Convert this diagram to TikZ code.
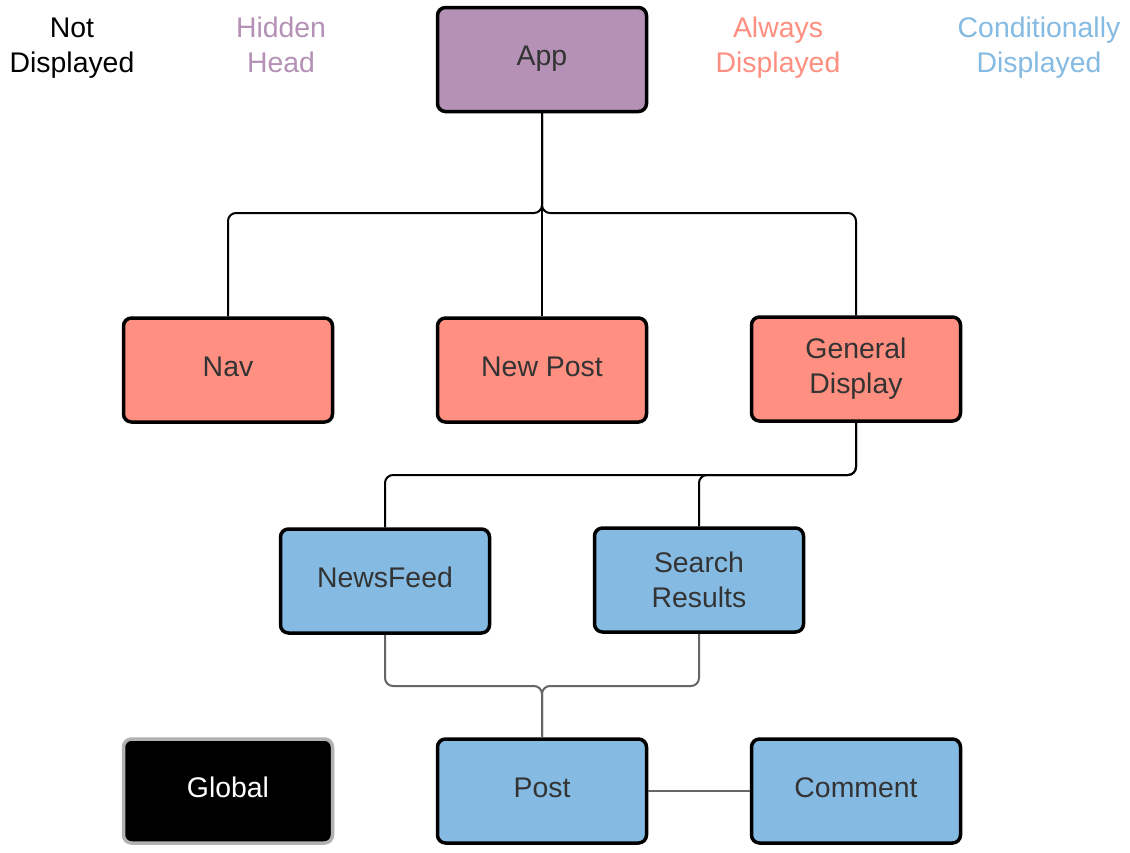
\documentclass[tikz,border=0pt]{standalone}
\usepackage{fontspec}
\setmainfont{Liberation Sans}
\definecolor{headpurple}{HTML}{B491B5}
\definecolor{alwayscoral}{HTML}{FF8F80}
\definecolor{condblue}{HTML}{85BBE3}
\definecolor{boxtext}{HTML}{333333}
\definecolor{linegray}{HTML}{666666}
\tikzset{
  compbox/.style={draw=black, line width=1.75pt, rounded corners=4pt,
    minimum width=104.5pt, minimum height=52pt, align=center,
    text=boxtext, font=\fontsize{14.2}{17.5}\selectfont},
  oneline/.style={text height=10.2pt, text depth=4pt},
  legend/.style={align=center, font=\fontsize{14.2}{17.5}\selectfont},
  tree/.style={line width=1pt, rounded corners=4pt},
}
\begin{document}
\begin{tikzpicture}[x=0.5pt, y=-0.5pt]
\useasboundingbox[fill=white] (0,0) rectangle (1130,852);

% legend
\node[legend, text=black] (notdisp) at (72,48) {Not\\Displayed};
\node[legend, text=headpurple] (hidhead) at (281,45) {Hidden\\Head};
\node[legend, text=alwayscoral] (alwdisp) at (778,48) {Always\\Displayed};
\node[legend, text=condblue] (conddisp) at (1039,48) {Conditionally\\Displayed};

% components
\node[compbox, oneline, fill=headpurple] (app) at (542,59.5) {App};
\node[compbox, oneline, fill=alwayscoral] (nav) at (228,370) {Nav};
\node[compbox, oneline, fill=alwayscoral] (newpost) at (542,370) {New Post};
\node[compbox, fill=alwayscoral] (gendisp) at (856,369) {General\\Display};
\node[compbox, oneline, fill=condblue] (newsfeed) at (385,581) {NewsFeed};
\node[compbox, fill=condblue] (search) at (699,580) {Search\\Results};
\node[compbox, oneline, fill=black, draw=black!30, text=white] (global) at (228,791) {Global};
\node[compbox, oneline, fill=condblue] (post) at (542,791) {Post};
\node[compbox, oneline, fill=condblue] (comment) at (856,791) {Comment};

\coordinate (appbar) at (542,213);
\coordinate (gdbar) at (856,475);
\coordinate (postbar) at (542,686);

% connectors
\draw[tree] (nav.north) |- (appbar) -- (app.south);
\draw[tree] (gendisp.north) |- (appbar) -- (app.south);
\draw[tree] (newpost.north) -- (app.south);
\draw[tree] (newsfeed.north) |- (gdbar) -- (gendisp.south);
\draw[tree] (search.north) |- (gdbar) -- (gendisp.south);
\draw[tree, linegray] (newsfeed.south) |- (postbar) -- (post.north);
\draw[tree, linegray] (search.south) |- (postbar) -- (post.north);
\draw[tree, linegray] (post.east) -- (comment.west);
\end{tikzpicture}
\end{document}
